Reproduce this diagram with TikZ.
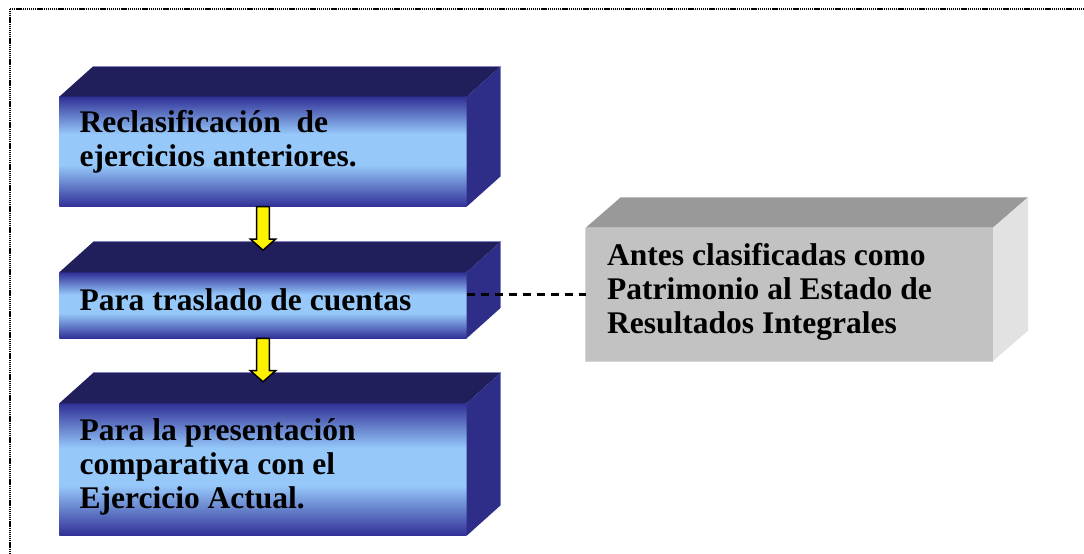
\documentclass[tikz,border=0pt]{standalone}
\usepackage{fontspec}
\setmainfont{Liberation Serif}
\definecolor{topnavy}{RGB}{32,31,92}
\definecolor{sidenavy}{RGB}{46,45,136}
\definecolor{frontdark}{RGB}{48,48,150}
\definecolor{frontlight}{RGB}{150,200,250}
\definecolor{edgelav}{RGB}{130,130,195}
\definecolor{greytop}{RGB}{153,153,153}
\definecolor{greyfront}{RGB}{194,194,194}
\definecolor{greyside}{RGB}{226,226,226}
\definecolor{greyedge}{RGB}{215,215,215}
\pgfdeclareverticalshading{bluefrontshade}{100bp}{color(0bp)=(frontdark); color(25bp)=(frontdark); color(44bp)=(frontlight); color(58bp)=(frontlight); color(75bp)=(frontdark); color(100bp)=(frontdark)}
\tikzset{
  frontbox/.style={rectangle, inner sep=0pt, outer sep=0pt, shading=bluefrontshade, minimum width=407.4pt},
  greybox/.style={rectangle, inner sep=0pt, outer sep=0pt, fill=greyfront, minimum width=407.3pt, minimum height=133.3pt},
  boxtext/.style={anchor=base west, inner sep=0pt, align=left, text=black, font=\fontsize{31.5}{33.8}\selectfont\bfseries},
  topface/.style={fill=topnavy},
  sideface/.style={fill=sidenavy},
  backedge/.style={draw=edgelav, line width=0.8pt},
  yarrowstyle/.style={fill=yellow, draw=black, line width=1.5pt, line join=miter},
  dashconn/.style={draw=black, line width=2.5pt, dash pattern=on 8.5pt off 5.5pt},
  frameline/.style={draw=black, line width=2pt, dash pattern=on 1.3pt off 0.8pt}
}
\begin{document}
\begin{tikzpicture}[x=1pt, y=-1pt]
\useasboundingbox (0,0) rectangle (1084,554);
\fill[white] (0,0) rectangle (1084,554);
% frame
\draw[frameline] (9.5,554) -- (9.5,8.5) -- (1084,8.5);
% blue boxes (front faces)
\node[frontbox, minimum height=110pt] (b1) at (263,151.7) {};
\node[frontbox, minimum height=66pt] (b2) at (263,305.3) {};
\node[frontbox, minimum height=132.4pt] (b3) at (263,469.5) {};
\foreach \n in {b1,b2,b3} {
  \fill[topface] (\n.north west) -- ++(34,-30.5) -- ([shift={(34,-30.5)}]\n.north east) -- (\n.north east) -- cycle;
  \fill[sideface] (\n.north east) -- ([shift={(34,-30.5)}]\n.north east) -- ([shift={(34,-30.5)}]\n.south east) -- (\n.south east) -- cycle;
  \draw[backedge] ([shift={(34,-30.5)}]\n.north west) -- ([shift={(34,-30.5)}]\n.north east) -- ([shift={(34,-30.5)}]\n.south east);
}
% grey box
\node[greybox] (g) at (789.35,294.35) {};
\fill[greytop] (g.north west) -- ++(35,-30.4) -- ([shift={(35,-30.4)}]g.north east) -- (g.north east) -- cycle;
\fill[greyside] (g.north east) -- ([shift={(35,-30.4)}]g.north east) -- ([shift={(35,-30.4)}]g.south east) -- (g.south east) -- cycle;
\draw[draw=greyedge, line width=0.8pt] (g.north west) -- (g.south west) -- (g.south east);
% texts (anchored at the baseline of the last line)
\node[boxtext] (t1) at (79.5,166.7) {Reclasificación~~de\\ejercicios anteriores.};
\node[boxtext] (t2) at (79.5,310) {Para traslado de cuentas};
\node[boxtext] (t3) at (79.5,508.3) {Para la presentación\\comparativa con el\\Ejercicio Actual.};
\node[boxtext] (t4) at (607,333.3) {Antes clasificadas como\\Patrimonio al Estado de\\Resultados Integrales};
% yellow arrows
\draw[yarrowstyle] ([xshift=-6.4pt]b1.south) -- ++(0,32.3) -- ++(-6.35,0) -- ++(12.75,11.2) -- ++(12.75,-11.2) -- ++(-6.35,0) -- ++(0,-32.3) -- cycle;
\draw[yarrowstyle] ([xshift=-6.4pt]b2.south) -- ++(0,32.3) -- ++(-6.35,0) -- ++(12.75,11.2) -- ++(12.75,-11.2) -- ++(-6.35,0) -- ++(0,-32.3) -- cycle;
% dashed connector
\draw[dashconn] (g.west -| b2.east) -- (g.west);
\end{tikzpicture}
\end{document}
